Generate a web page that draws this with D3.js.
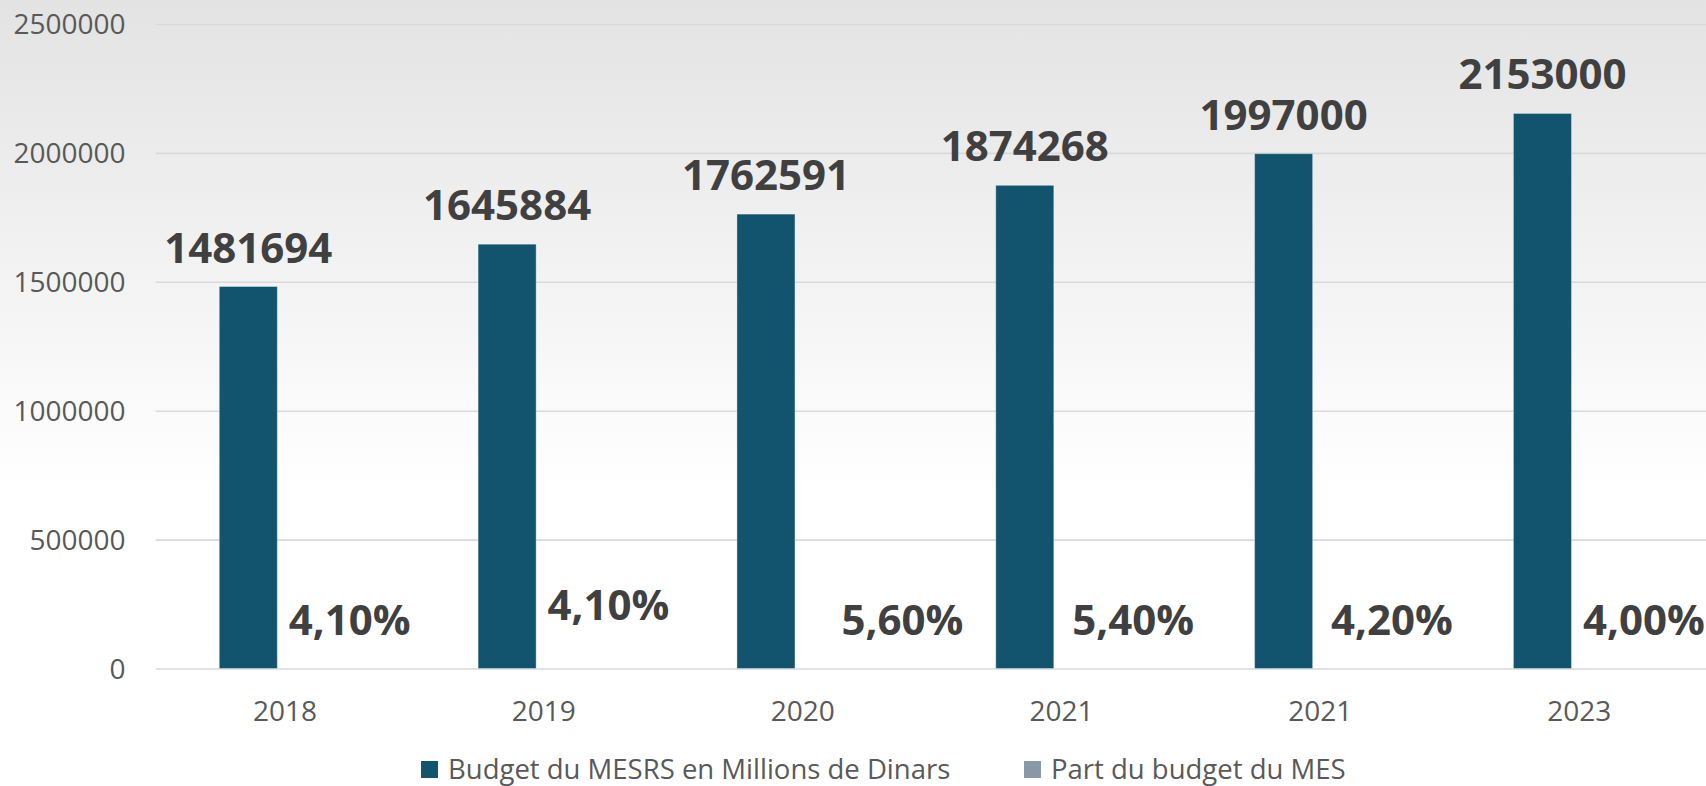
<!DOCTYPE html>
<html>
<head>
<meta charset="utf-8">
<script src="https://cdn.jsdelivr.net/npm/d3@7"></script>
<style>
  html, body { margin: 0; padding: 0; background: #ffffff; overflow: hidden; }
  svg { display: block; }
  text { font-family: "Open Sans", "DejaVu Sans", sans-serif; }
</style>
</head>
<body>
<svg id="chart" width="1706" height="786"></svg>
<script>
// ---- data ----
const categories = ["2018", "2019", "2020", "2021", "2021", "2023"];
const budgetValues = [1481694, 1645884, 1762591, 1874268, 1997000, 2153000];
const shareValues = [4.10, 4.10, 5.60, 5.40, 4.20, 4.00]; // percent
const seriesNames = ["Budget du MESRS en Millions de Dinars", "Part du budget du MES"];
const yTicks = [0, 500000, 1000000, 1500000, 2000000, 2500000];

// ---- layout (label nudges mimic manually placed labels in source) ----
const pctNudgeX = [0, 0, 35, 7, 7, 0];
const pctNudgeY = [0, -15, 0, 0, 0, 0];

const W = 1706, H = 786;
const plotLeft = 155.6, plotRight = 1708.6, plotTop = 24, plotBottom = 668.5;
const colors = ["#12536e", "#8798a8"];

const svg = d3.select("#chart");

// background gradient
const defs = svg.append("defs");
const grad = defs.append("linearGradient").attr("id", "bg").attr("x1", 0).attr("y1", 0).attr("x2", 0).attr("y2", 1);
grad.append("stop").attr("offset", "0%").attr("stop-color", "#e3e3e3");
grad.append("stop").attr("offset", "62%").attr("stop-color", "#ffffff");
grad.append("stop").attr("offset", "100%").attr("stop-color", "#ffffff");
svg.append("rect").attr("width", W).attr("height", H).attr("fill", "url(#bg)");

const idx = d3.range(categories.length);
const x0 = d3.scaleBand().domain(idx).range([plotLeft, plotRight]).padding(0);
const bw = x0.bandwidth();
const x1 = d3.scaleBand().domain([0, 1]).range([0.246 * bw, 0.754 * bw]).paddingInner(0.21);
const y = d3.scaleLinear().domain([0, 2500000]).range([plotBottom, plotTop]);

// gridlines via axis
const grid = svg.append("g").attr("transform", `translate(${plotLeft},0)`)
  .call(d3.axisRight(y).tickValues(yTicks).tickSize(W - plotLeft).tickFormat(""));
grid.select(".domain").remove();
grid.selectAll("line").attr("stroke", "#d9d9d9").attr("stroke-width", 1.6);

// y-axis labels
const yAxis = svg.append("g").attr("transform", `translate(125.5,0)`)
  .call(d3.axisLeft(y).tickValues(yTicks).tickSize(0).tickPadding(0).tickFormat(d3.format("d")));
yAxis.select(".domain").remove();
yAxis.selectAll("text")
  .attr("font-family", '"Open Sans", sans-serif')
  .attr("font-size", 28).attr("fill", "#595959").attr("dy", "0.35em");

// x-axis labels
const xAxis = svg.append("g").attr("transform", `translate(0,${plotBottom})`)
  .call(d3.axisBottom(x0).tickSize(0).tickPadding(0).tickFormat(i => categories[i]));
xAxis.select(".domain").remove();
xAxis.selectAll("text")
  .attr("font-family", '"Open Sans", sans-serif')
  .attr("font-size", 28).attr("fill", "#595959").attr("dy", 0).attr("y", 52);

// bars series 1
const g = svg.append("g");
g.selectAll("rect.budget").data(idx).enter().append("rect")
  .attr("class", "budget")
  .attr("x", i => x0(i) + x1(0))
  .attr("width", x1.bandwidth())
  .attr("y", i => y(budgetValues[i]))
  .attr("height", i => y(0) - y(budgetValues[i]))
  .attr("fill", colors[0])
  .attr("stroke", "rgba(255,255,255,0.35)").attr("stroke-width", 1);

// bars series 2 (values in % are negligible on this scale)
g.selectAll("rect.share").data(idx).enter().append("rect")
  .attr("class", "share")
  .attr("x", i => x0(i) + x1(1))
  .attr("width", x1.bandwidth())
  .attr("y", i => y(shareValues[i] / 100))
  .attr("height", i => y(0) - y(shareValues[i] / 100))
  .attr("fill", colors[1]);

// value labels
g.selectAll("text.vlab").data(idx).enter().append("text")
  .attr("class", "vlab")
  .attr("x", i => x0(i) + x1(0) + x1.bandwidth() / 2)
  .attr("y", i => y(budgetValues[i]) - 24)
  .attr("text-anchor", "middle")
  .attr("font-size", 42).attr("font-weight", 700).attr("fill", "#404040")
  .text(i => budgetValues[i]);

// percent labels
const fmtPct = v => v.toFixed(2).replace(".", ",") + "%";
g.selectAll("text.plab").data(idx).enter().append("text")
  .attr("class", "plab")
  .attr("x", i => x0(i) + x1(1) - 4 + pctNudgeX[i])
  .attr("y", i => y(shareValues[i] / 100) - 34 + pctNudgeY[i])
  .attr("text-anchor", "start")
  .attr("font-size", 42).attr("font-weight", 700).attr("fill", "#404040")
  .text(i => fmtPct(shareValues[i]));

// legend
const legend = svg.append("g");
const legendX = [421, 1024];
seriesNames.forEach((name, k) => {
  const lg = legend.append("g").attr("transform", `translate(${legendX[k]},761)`);
  lg.append("rect").attr("width", 17).attr("height", 17).attr("fill", colors[k]);
  lg.append("text").attr("x", 27).attr("y", 18)
    .attr("font-size", 27.5).attr("fill", "#595959").text(name);
});
</script>
</body>
</html>
